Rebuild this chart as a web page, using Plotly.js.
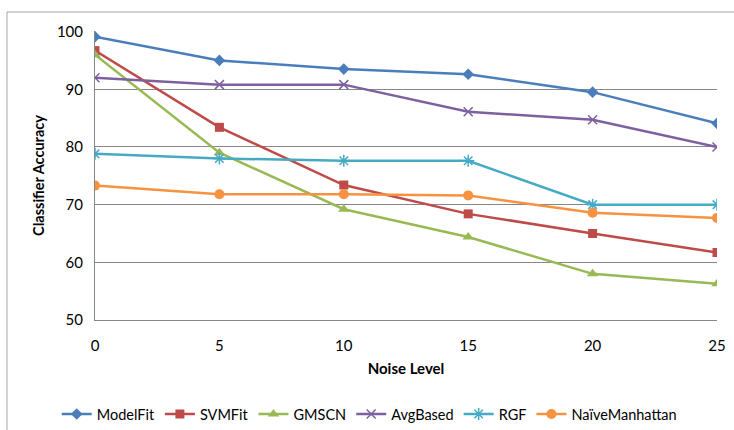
<!DOCTYPE html>
<html>
<head>
<meta charset="utf-8">
<script src="https://cdn.plot.ly/plotly-3.0.1.min.js"></script>
<style>html,body{margin:0;padding:0;background:#fff;}#chart{width:734px;height:430px;}</style>
</head>
<body>
<div id="chart"></div>
<script>
const noiseLevels = [0, 5, 10, 15, 20, 25];
const modelFit = [99.1, 95.0, 93.5, 92.6, 89.5, 84.1];
const svmFit = [96.7, 83.4, 73.4, 68.4, 65.0, 61.7];
const gmscn = [96.0, 79.0, 69.2, 64.4, 58.0, 56.3];
const avgBased = [92.0, 90.8, 90.8, 86.1, 84.7, 80.0];
const rgf = [78.8, 78.0, 77.6, 77.6, 70.0, 70.0];
const naiveManhattan = [73.3, 71.8, 71.8, 71.6, 68.6, 67.7];
const seriesNames = ["ModelFit", "SVMFit", "GMSCN", "AvgBased", "RGF", "NaïveManhattan"];
const yTicks = [50, 60, 70, 80, 90, 100];

const seriesData = [modelFit, svmFit, gmscn, avgBased, rgf, naiveManhattan];
const colors = ["#4A7EBB", "#BE4B48", "#98B954", "#7D60A0", "#46AAC5", "#F69240"];
const symbols = ["diamond", "square", "triangle-up", "x-thin-open", "asterisk-open", "circle"];
const sizes = [9, 9, 10, 9, 10, 10];

const traces = seriesData.map((vals, i) => ({
  x: noiseLevels,
  y: vals,
  name: seriesNames[i],
  type: "scatter",
  mode: "lines+markers",
  line: {color: colors[i], width: 2.5},
  marker: {symbol: symbols[i], size: sizes[i], color: colors[i], line: {color: colors[i], width: (i === 3 || i === 4) ? 1.5 : 0}}
}));

const font = "Lato, 'Open Sans', sans-serif";
const layout = {
  width: 734, height: 430,
  margin: {l: 95, r: 17, t: 31, b: 110},
  paper_bgcolor: "#ffffff",
  plot_bgcolor: "#ffffff",
  font: {family: font, size: 15, color: "#000"},
  showlegend: true,
  legend: {orientation: "h", x: 0.503, xref: "container", xanchor: "center", y: 0.037, yref: "container", yanchor: "middle", font: {size: 14.5}, itemwidth: 30, tracegroupgap: 0},
  xaxis: {
    range: [0, 25], tickvals: noiseLevels, showgrid: false, zeroline: false, automargin: false,
    showline: true, linecolor: "#878787", linewidth: 1, ticks: "", ticklabelstandoff: 12,
    title: {text: "<b>Noise Level</b>", font: {size: 15}, standoff: 10}
  },
  yaxis: {
    range: [50, 100.1], tickvals: yTicks, showgrid: true, gridcolor: "#878787", gridwidth: 1, automargin: false,
    zeroline: false, showline: true, linecolor: "#878787", linewidth: 1, ticks: "", ticklabelstandoff: 8,
    title: {text: "<b>Classifier Accuracy</b>", font: {size: 14.5}, standoff: 8}
  },
  shapes: [
    {type: "line", xref: "paper", yref: "paper", x0: -0.1415, x1: 1.03, y0: 1.0657, y1: 1.0657, line: {color: "#A6A6A6", width: 1}},
    {type: "line", xref: "paper", yref: "paper", x0: -0.1415, x1: -0.1415, y0: 1.0657, y1: -0.39, line: {color: "#A6A6A6", width: 1}}
  ]
};

Plotly.newPlot("chart", traces, layout, {displayModeBar: false, staticPlot: true});
</script>
</body>
</html>
